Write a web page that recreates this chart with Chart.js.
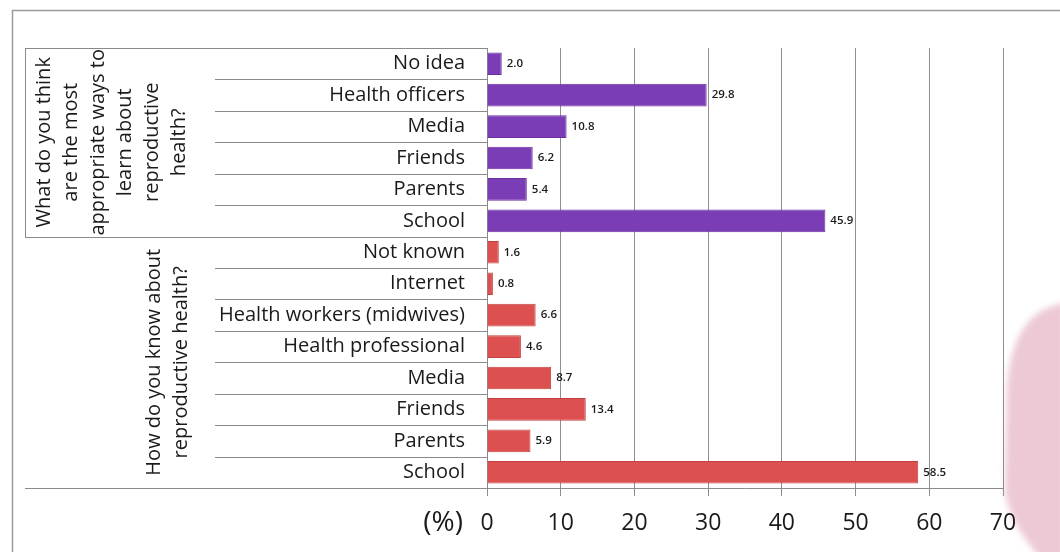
<!DOCTYPE html>
<html>
<head>
<meta charset="utf-8">
<title>Reproductive health sources</title>
<script src="https://cdn.jsdelivr.net/npm/chart.js@4.4.1/dist/chart.umd.min.js"></script>
<style>
    body { margin: 0; background: #fff; }
    #chart { display: block; }
</style>
</head>
<body>
<canvas id="chart" width="1060" height="552"></canvas>
<script>
// Categories, top to bottom
const learnLabels = ['No idea', 'Health officers', 'Media', 'Friends', 'Parents', 'School'];
const learnValues = [2.0, 29.8, 10.8, 6.2, 5.4, 45.9];

const knowLabels = ['Not known', 'Internet', 'Health workers (midwives)', 'Health professional', 'Media', 'Friends', 'Parents', 'School'];
const knowValues = [1.6, 0.8, 6.6, 4.6, 8.7, 13.4, 5.9, 58.5];

const groupTitles = [
    ['What do you think', 'are the most', 'appropriate ways to', 'learn about', 'reproductive', 'health?'],
    ['How do you know about', 'reproductive health?']
];

const xTicks = [0, 10, 20, 30, 40, 50, 60, 70];

const PURPLE = '#7b3db5';
const RED = '#dc5050';
const FONT = '"Open Sans", "Liberation Sans", sans-serif';

const allLabels = learnLabels.concat(knowLabels);
const allValues = learnValues.concat(knowValues);
const barColors = learnValues.map(() => PURPLE).concat(knowValues.map(() => RED));
const borderColors = learnValues.map(() => '#6a2fa0').concat(knowValues.map(() => '#c44040'));

// Frame, category separators, group titles
const framePlugin = {
    id: 'framePlugin',
    beforeDraw(chart) {
        const ctx = chart.ctx;
        ctx.save();
        // pink shape in the lower right corner
        ctx.filter = 'blur(3px)';
        ctx.fillStyle = '#ecc9d5';
        ctx.beginPath();
        ctx.moveTo(1065, 302);
        ctx.lineTo(1045, 309);
        ctx.quadraticCurveTo(1012, 325, 1007, 385);
        ctx.lineTo(1005, 490);
        ctx.quadraticCurveTo(1008, 522, 1042, 560);
        ctx.lineTo(1065, 560);
        ctx.closePath();
        ctx.fill();
        ctx.filter = 'none';

        // outer frame
        ctx.strokeStyle = '#9a9a9a';
        ctx.lineWidth = 1.5;
        ctx.beginPath();
        ctx.moveTo(12.5, 560);
        ctx.lineTo(12.5, 10.5);
        ctx.lineTo(1065, 10.5);
        ctx.stroke();
        ctx.restore();
    },
    afterDraw(chart) {
        const ctx = chart.ctx;
        const y = chart.scales.y;
        const x = chart.scales.x;
        const area = chart.chartArea;
        const step = (area.bottom - area.top) / allLabels.length;
        const boundary = i => y.getPixelForValue(i) - step / 2;
        const nLearn = learnLabels.length;

        ctx.save();
        ctx.strokeStyle = '#8a8a8a';
        ctx.lineWidth = 1;
        ctx.beginPath();
        for (let i = 0; i <= allLabels.length; i++) {
            const py = Math.round(boundary(i)) + 0.5;
            const isGroupEdge = (i === 0 || i === nLearn || i === allLabels.length);
            ctx.moveTo(isGroupEdge ? 25 : 215, py);
            ctx.lineTo(area.left, py);
        }
        // left edge of the first group
        ctx.moveTo(25.5, Math.round(boundary(0)) + 0.5);
        ctx.lineTo(25.5, Math.round(boundary(nLearn)) + 0.5);
        ctx.stroke();

        // rotated group titles
        ctx.fillStyle = '#1a1a1a';
        ctx.font = '20px ' + FONT;
        ctx.textAlign = 'center';
        ctx.textBaseline = 'middle';
        const groups = [
            { lines: groupTitles[0], from: 0, to: nLearn, cx: 112 },
            { lines: groupTitles[1], from: nLearn, to: allLabels.length, cx: 168 }
        ];
        groups.forEach(g => {
            const cy = (boundary(g.from) + boundary(g.to)) / 2;
            const lh = 27;
            ctx.save();
            ctx.translate(g.cx, cy);
            ctx.rotate(-Math.PI / 2);
            g.lines.forEach((line, k) => {
                const off = (k - (g.lines.length - 1) / 2) * lh;
                ctx.fillText(line, 0, off);
            });
            ctx.restore();
        });

        // unit label beside the x ticks
        ctx.font = '28px ' + FONT;
        ctx.textAlign = 'right';
        ctx.fillText('(%)', x.getPixelForValue(0) - 24, 523);
        ctx.restore();
    }
};

// Value labels at the end of each bar
const valueLabels = {
    id: 'valueLabels',
    afterDatasetsDraw(chart) {
        const ctx = chart.ctx;
        const meta = chart.getDatasetMeta(0);
        ctx.save();
        ctx.fillStyle = '#1a1a1a';
        ctx.font = '600 11.5px ' + FONT;
        ctx.textAlign = 'left';
        ctx.textBaseline = 'middle';
        meta.data.forEach((bar, i) => {
            ctx.fillText(allValues[i].toFixed(1), bar.x + 5, bar.y);
        });
        ctx.restore();
    }
};

new Chart(document.getElementById('chart'), {
    type: 'bar',
    data: {
        labels: allLabels,
        datasets: [{
            data: allValues,
            backgroundColor: barColors,
            borderColor: borderColors,
            borderWidth: 1,
            barPercentage: 0.72,
            categoryPercentage: 1
        }]
    },
    options: {
        indexAxis: 'y',
        responsive: false,
        animation: false,
        layout: {
            padding: { top: 48, right: 57, bottom: 0, left: 0 }
        },
        plugins: {
            legend: { display: false },
            tooltip: { enabled: false }
        },
        scales: {
            x: {
                min: xTicks[0],
                max: xTicks[xTicks.length - 1],
                afterFit(scale) { scale.height = 64; },
                afterBuildTicks(scale) {
                    scale.ticks = xTicks.map(v => ({ value: v }));
                },
                grid: {
                    color: '#8f8f8f',
                    lineWidth: 1,
                    tickLength: 8
                },
                border: { color: '#8a8a8a', width: 1 },
                ticks: {
                    color: '#1a1a1a',
                    padding: 14,
                    font: { family: FONT, size: 23 }
                }
            },
            y: {
                afterFit(scale) { scale.width = 487; },
                grid: { display: false, drawTicks: false },
                border: { display: true, color: '#8a8a8a', width: 1 },
                ticks: {
                    color: '#1a1a1a',
                    padding: 22,
                    autoSkip: false,
                    font: { family: FONT, size: 20 }
                }
            }
        }
    },
    plugins: [framePlugin, valueLabels]
});
</script>
</body>
</html>
